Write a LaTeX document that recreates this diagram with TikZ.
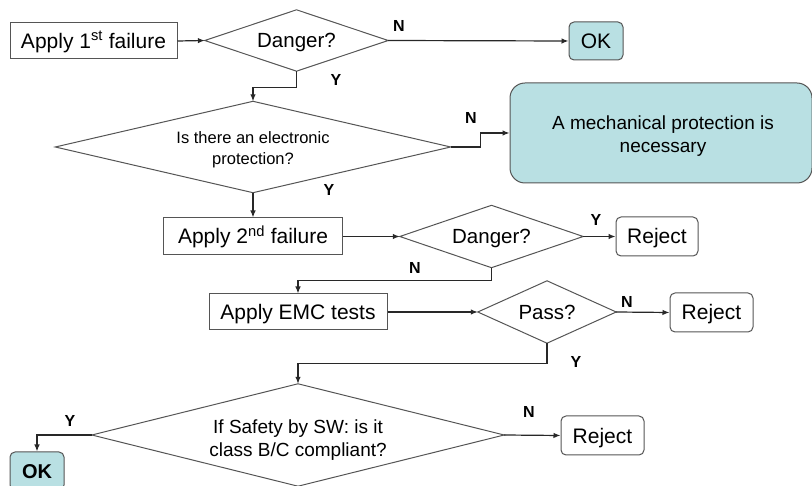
\documentclass[tikz,border=0pt]{standalone}
\usepackage{fontspec}
\setmainfont{Liberation Sans}
\usetikzlibrary{arrows.meta}
\definecolor{tealfill}{RGB}{185,224,227}
\definecolor{linecol}{RGB}{40,40,40}
\definecolor{bordercol}{RGB}{85,85,85}
\tikzset{
  boxbase/.style={draw=bordercol,line width=1pt,inner sep=0pt,align=center,font=\fontsize{21}{24}\selectfont,text height=15pt,text depth=0pt},
  sqbox/.style={boxbase},
  rbox/.style={boxbase,rounded corners=5pt},
  tealbox/.style={boxbase,rounded corners=5pt,fill=tealfill},
  decision/.style={rectangle,inner sep=0pt,align=center,font=\fontsize{20.5}{24}\selectfont,text height=14.7pt,text depth=0pt},
  dplace/.style={rectangle,inner sep=0pt},
  dtext/.style={inner sep=0pt,align=center},
  dline/.style={draw=bordercol,line width=1pt,line join=miter},
  arr/.style={draw=linecol,line width=1.2pt,-{Latex[length=7pt,width=5.5pt]}},
  yn/.style={font=\fontsize{16}{18}\bfseries\selectfont,text=black,inner sep=0pt}
}
\newcommand{\dmd}[1]{\draw[dline] (#1.west) -- (#1.north) -- (#1.east) -- (#1.south) -- cycle;}
\begin{document}
\begin{tikzpicture}[x=1pt,y=-1pt]
\useasboundingbox (0,0) rectangle (812,486);
\fill[white] (0,0) rectangle (812,486);
% nodes
\node[sqbox,minimum width=167pt,minimum height=36pt] (b1) at (93.5,41) {Apply 1\textsuperscript{st} failure};
\node[decision,minimum width=183pt,minimum height=61pt] (d1) at (296.5,40.5) {Danger?};
\node[tealbox,minimum width=54pt,minimum height=38pt] (ok1) at (596,41) {OK};
\node[dplace,minimum width=395pt,minimum height=91pt] (d2) at (253,147) {};
\node[dtext,font=\fontsize{16.5}{21}\selectfont] (d2t) at (253,149.5) {Is there an electronic\\protection?};
\node[tealbox,rounded corners=15pt,minimum width=302pt,minimum height=100pt] (mech) at (661,133) {};
\node[dtext,font=\fontsize{19}{23}\selectfont] (mecht) at (663,136) {A mechanical protection is\\necessary};
\node[sqbox,minimum width=179pt,minimum height=37pt] (b2) at (253,236.5) {Apply 2\textsuperscript{nd} failure};
\node[decision,minimum width=183pt,minimum height=62pt] (d3) at (491.5,236.5) {Danger?};
\node[rbox,minimum width=82pt,minimum height=39pt] (rej1) at (657,236.5) {Reject};
\node[sqbox,minimum width=178pt,minimum height=36pt] (emc) at (298,312) {Apply EMC tests};
\node[decision,minimum width=138pt,minimum height=62pt] (d4) at (547,312) {Pass?};
\node[rbox,minimum width=83pt,minimum height=39pt] (rej2) at (711.5,312.5) {Reject};
\node[dplace,minimum width=412pt,minimum height=102pt] (d5) at (298,435) {};
\node[dtext,font=\fontsize{19}{22.5}\selectfont] (d5t) at (298,440) {If Safety by SW: is it\\class B/C compliant?};
\node[rbox,minimum width=83pt,minimum height=39pt] (rej3) at (602.5,435.5) {Reject};
\node[tealbox,minimum width=54pt,minimum height=38pt,font=\fontsize{20}{24}\bfseries\selectfont] (ok2) at (37,471) {OK};
% diamonds
\dmd{d1}
\dmd{d2}
\dmd{d3}
\dmd{d4}
\dmd{d5}
% connectors
\draw[arr] (b1.east) -- (d1.west);
\draw[arr] (d1.east) -- (ok1.west);
\draw[arr] (d1.south) -- ++(0,16) -| (d2.north);
\draw[arr] (d2.east) -- ++(30,0) |- (mech.west);
\draw[arr] (d2.south) -- (b2.north);
\draw[arr] (b2.east) -- (d3.west);
\draw[arr] (d3.east) -- (rej1.west);
\draw[arr] (d3.south) -- ++(0,13) -| (emc.north);
\draw[arr] (emc.east) -- (d4.west);
\draw[arr] (d4.east) -- (rej2.west);
\draw[arr] (d4.south) -- ++(0,20) -| (d5.north);
\draw[arr] (d5.east) -- (rej3.west);
\draw[arr] (d5.west) -| (ok2.north);
% labels
\node[yn] (l1) at (399,26) {N};
\node[yn] (l2) at (336,80) {Y};
\node[yn] (l3) at (471,118) {N};
\node[yn] (l4) at (329,190) {Y};
\node[yn] (l5) at (596,220) {Y};
\node[yn] (l6) at (415,268) {N};
\node[yn] (l7) at (627,302) {N};
\node[yn] (l8) at (576,362) {Y};
\node[yn] (l9) at (529,412) {N};
\node[yn] (l10) at (70,421) {Y};
\end{tikzpicture}
\end{document}
